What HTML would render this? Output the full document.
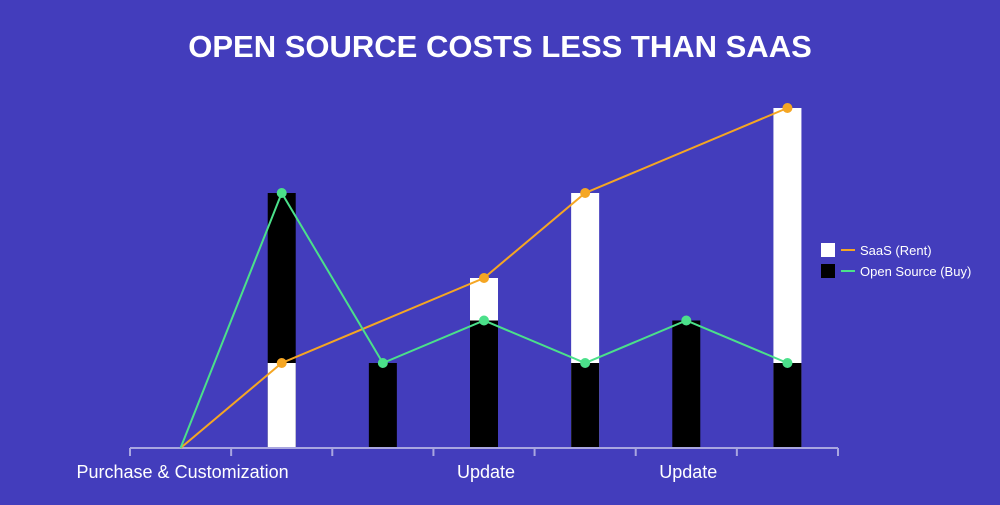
<!DOCTYPE html>
<html><head><meta charset="utf-8"><style>
body{margin:0;width:1000px;height:500px;background:#433dbc;overflow:hidden;font-family:"Liberation Sans",sans-serif}
</style></head><body>
<svg width="1000" height="500">
<text x="500" y="57" text-anchor="middle" fill="#fff" font-weight="bold" font-size="31">OPEN SOURCE COSTS LESS THAN SAAS</text>
<g id="plot"></g>
<g>
<rect x="821" y="243" width="14" height="14" fill="#fff"/>
<line x1="841" y1="250" x2="855" y2="250" stroke="#f5a623" stroke-width="2"/>
<text x="860" y="255" fill="#fff" font-size="13">SaaS (Rent)</text>
<rect x="821" y="264" width="14" height="14" fill="#000"/>
<line x1="841" y1="271" x2="855" y2="271" stroke="#4be08a" stroke-width="2"/>
<text x="860" y="276" fill="#fff" font-size="13">Open Source (Buy)</text>
</g>
</svg>
<script>
const categories=["Purchase & Customization","","","Update","","Update",""];
const saas=[0,2,null,4,6,null,8];
const openSource=[0,6,2,3,2,3,2];
const NS="http://www.w3.org/2000/svg";
const g=document.getElementById('plot');
const x0=130,x1=838,base=448,unit=42.5;
const bw=(x1-x0)/categories.length;
const xs=i=>x0+bw*(i+0.5);
const ys=v=>base-v*unit;
function mk(t,a){const e=document.createElementNS(NS,t);for(const k in a)e.setAttribute(k,a[k]);g.appendChild(e);return e;}
categories.forEach((c,i)=>{
  const bars=[];
  if(saas[i]!=null&&saas[i]>0)bars.push({v:saas[i],f:"#fff",n:"bar-saas-"+i});
  if(openSource[i]!=null&&openSource[i]>0)bars.push({v:openSource[i],f:"#000",n:"bar-open-source-"+i});
  bars.sort((a,b)=>b.v-a.v);
  bars.forEach(b=>{const r=mk('rect',{x:xs(i)-14,y:ys(b.v),width:28,height:b.v*unit,fill:b.f});
    
    });
});
mk('line',{x1:x0,y1:base,x2:x1,y2:base,stroke:"#a9a6e0","stroke-width":2});
for(let i=0;i<=categories.length;i++){const t=mk('line',{x1:x0+bw*i,y1:base,x2:x0+bw*i,y2:base+8,stroke:"#a9a6e0","stroke-width":2});
  
  }
categories.forEach((c,i)=>{if(!c)return;const t=mk('text',{x:xs(i)+2,y:478,"text-anchor":"middle",fill:"#fff","font-size":18});t.textContent=c;
  
  });
function series(arr,col,name){
  const pts=[];arr.forEach((v,i)=>{if(v!=null)pts.push([xs(i),ys(v)]);});
  const p=mk('polyline',{points:pts.map(p=>p.join(',')).join(' '),fill:"none",stroke:col,"stroke-width":2});
  
  
  pts.slice(1).forEach(q=>{const c=mk('circle',{cx:q[0],cy:q[1],r:5,fill:col});
    
    });
}
series(saas,"#f5a623","saas");
series(openSource,"#4be08a","open-source");
</script>
</body></html>
